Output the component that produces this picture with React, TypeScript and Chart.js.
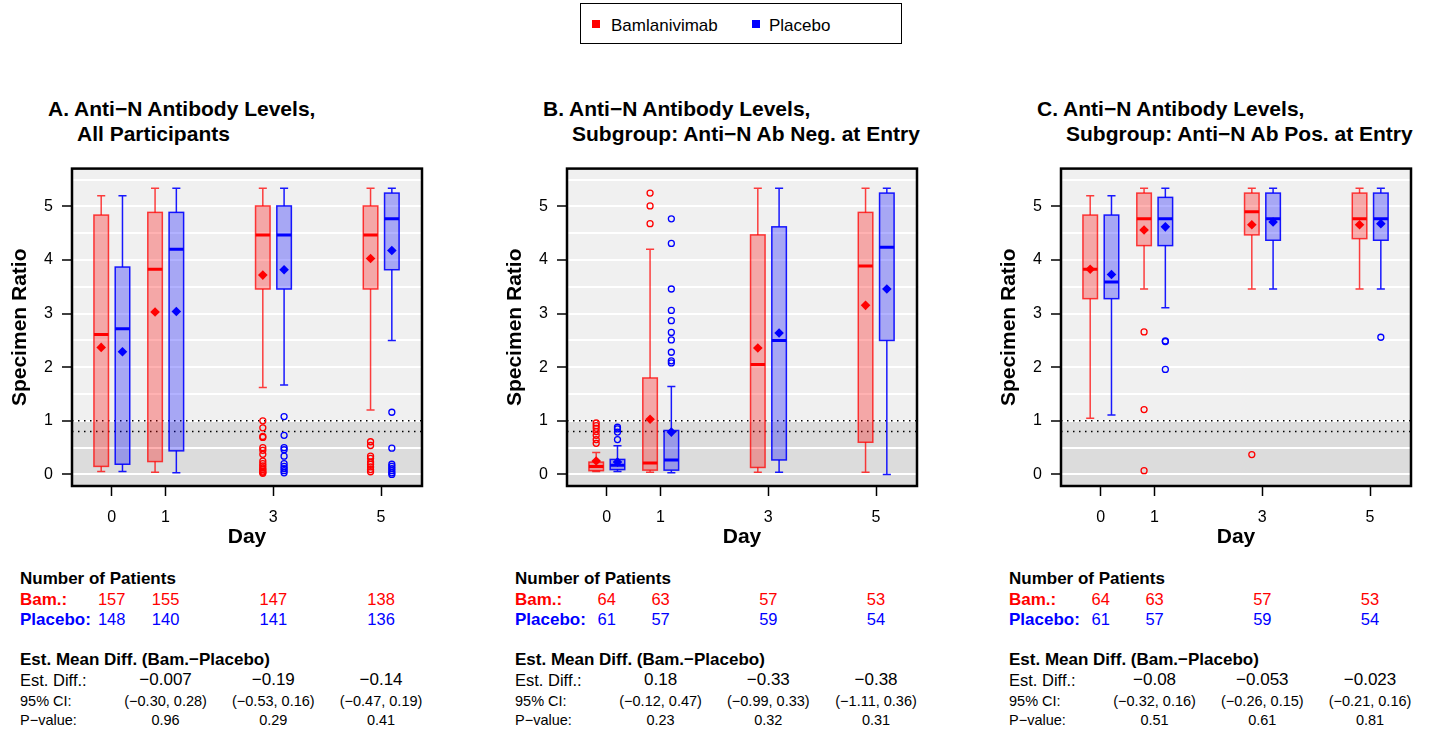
import React, { useEffect, useRef } from 'react';
import { Chart, registerables } from 'chart.js';

Chart.register(...registerables);

const FONT = '"Liberation Sans", Arial, Helvetica, sans-serif';
const RED = '#ff0000';
const BLUE = '#0000ff';

// ---------- data ----------
const days = [0, 1, 3, 5];
const diffDays = [1, 3, 5];
const yGridValues = [0, 0.5, 1, 1.5, 2, 2.5, 3, 3.5, 4, 4.5, 5, 5.5];
const refLines = [1.0, 0.8];
const grayBelow = 1.0;

// box stats per day: [lower whisker, Q1, median, Q3, upper whisker]
// Panel A
const aBamBox = [
  [0.055, 0.15, 2.61, 4.84, 5.2],
  [0.04, 0.24, 3.83, 4.89, 5.34],
  [1.62, 3.46, 4.47, 5.01, 5.34],
  [1.2, 3.46, 4.47, 5.01, 5.34],
];
const aBamMean = [2.37, 3.03, 3.72, 4.03];
const aBamOut = [
  [],
  [],
  [1.0, 0.87, 0.71, 0.69, 0.5, 0.45, 0.375, 0.25, 0.2, 0.16, 0.12, 0.09, 0.06, 0.04, 0.02],
  [0.61, 0.54, 0.34, 0.3, 0.23, 0.19, 0.14, 0.09, 0.05],
];
const aPboBox = [
  [0.055, 0.19, 2.72, 3.87, 5.2],
  [0.03, 0.44, 4.2, 4.89, 5.34],
  [1.67, 3.46, 4.47, 5.01, 5.34],
  [2.5, 3.82, 4.77, 5.25, 5.34],
];
const aPboMean = [2.29, 3.04, 3.82, 4.18];
const aPboOut = [
  [],
  [],
  [1.08, 0.73, 0.5, 0.46, 0.34, 0.2, 0.15, 0.11, 0.07, 0.03],
  [1.16, 0.49, 0.19, 0.15, 0.11, 0.07, 0.03, 0.0],
];

// Panel B
const bBamBox = [
  [0.055, 0.07, 0.15, 0.23, 0.41],
  [0.04, 0.08, 0.215, 1.8, 4.2],
  [0.04, 0.13, 2.05, 4.47, 5.34],
  [0.04, 0.6, 3.89, 4.89, 5.34],
];
const bBamMean = [0.25, 1.03, 2.36, 3.155];
const bBamOut = [[0.96, 0.91, 0.86, 0.8, 0.73, 0.65, 0.58], [5.25, 5.01, 4.68], [], []];
const bPboBox = [
  [0.055, 0.09, 0.17, 0.28, 0.535],
  [0.03, 0.08, 0.27, 0.82, 1.64],
  [0.04, 0.27, 2.5, 4.62, 5.34],
  [0.0, 2.5, 4.24, 5.25, 5.34],
];
const bPboMean = [0.23, 0.79, 2.64, 3.46];
const bPboOut = [[0.88, 0.85, 0.79, 0.65], [4.77, 4.31, 3.46, 3.06, 2.87, 2.65, 2.51, 2.28, 2.12, 2.08], [], []];

// Panel C
const cBamBox = [
  [1.05, 3.28, 3.83, 4.84, 5.2],
  [3.46, 4.27, 4.77, 5.25, 5.34],
  [3.46, 4.47, 4.9, 5.25, 5.34],
  [3.46, 4.4, 4.77, 5.25, 5.34],
];
const cBamMean = [3.83, 4.56, 4.66, 4.66];
const cBamOut = [[], [2.66, 1.21, 0.07], [0.37], []];
const cPboBox = [
  [1.11, 3.28, 3.59, 4.84, 5.2],
  [3.11, 4.27, 4.77, 5.17, 5.34],
  [3.46, 4.37, 4.77, 5.25, 5.34],
  [3.46, 4.37, 4.77, 5.25, 5.34],
];
const cPboMean = [3.73, 4.62, 4.71, 4.68];
const cPboOut = [[], [2.49, 2.48, 1.96], [], [2.56]];

// tables
const aBamN = [157, 155, 147, 138];
const aPboN = [148, 140, 141, 136];
const aDiff = ['\u22120.007', '\u22120.19', '\u22120.14'];
const aCI = ['(\u22120.30, 0.28)', '(\u22120.53, 0.16)', '(\u22120.47, 0.19)'];
const aP = ['0.96', '0.29', '0.41'];

const bBamN = [64, 63, 57, 53];
const bPboN = [61, 57, 59, 54];
const bDiff = ['0.18', '\u22120.33', '\u22120.38'];
const bCI = ['(\u22120.12, 0.47)', '(\u22120.99, 0.33)', '(\u22121.11, 0.36)'];
const bP = ['0.23', '0.32', '0.31'];

const cBamN = [64, 63, 57, 53];
const cPboN = [61, 57, 59, 54];
const cDiff = ['\u22120.08', '\u22120.053', '\u22120.023'];
const cCI = ['(\u22120.32, 0.16)', '(\u22120.26, 0.15)', '(\u22120.21, 0.16)'];
const cP = ['0.51', '0.61', '0.81'];

const aTitle = ['A. Anti\u2212N Antibody Levels,', 'All Participants'];
const bTitle = ['B. Anti\u2212N Antibody Levels,', 'Subgroup: Anti\u2212N Ab Neg. at Entry'];
const cTitle = ['C. Anti\u2212N Antibody Levels,', 'Subgroup: Anti\u2212N Ab Pos. at Entry'];

const tableHead1 = 'Number of Patients';
const tableHead2 = 'Est. Mean Diff. (Bam.\u2212Placebo)';
const rowBam = 'Bam.:';
const rowPbo = 'Placebo:';
const rowDiff = 'Est. Diff.:';
const rowCI = '95% CI:';
const rowP = 'P\u2212value:';

// ---------- layout ----------
const PANEL_DX = [0, 495, 989];
const X_MIN = -0.737;
const X_MAX = 5.76;
const Y_MIN = -0.216;
const Y_MAX = 5.707;
const BAM_OFF = -0.195;
const PBO_OFF = 0.2;
const BOX_HALF = 0.135;
const CAP_HALF = 0.075;
const CANVAS_TOP = 150;
const CANVAS_W = 440;
const CANVAS_H = 410;
const AREA_L = 72;
const AREA_T = 15;
const AREA_R = 422;
const AREA_B = 336;

const panels = [
  { title: aTitle, bamBox: aBamBox, bamMean: aBamMean, bamOut: aBamOut, pboBox: aPboBox, pboMean: aPboMean, pboOut: aPboOut, bamN: aBamN, pboN: aPboN, diff: aDiff, ci: aCI, p: aP, title2X: 77 },
  { title: bTitle, bamBox: bBamBox, bamMean: bBamMean, bamOut: bBamOut, pboBox: bPboBox, pboMean: bPboMean, pboOut: bPboOut, bamN: bBamN, pboN: bPboN, diff: bDiff, ci: bCI, p: bP, title2X: 77 },
  { title: cTitle, bamBox: cBamBox, bamMean: cBamMean, bamOut: cBamOut, pboBox: cPboBox, pboMean: cPboMean, pboOut: cPboOut, bamN: cBamN, pboN: cPboN, diff: cDiff, ci: cCI, p: cP, title2X: 77 },
];

function colX(d: number) {
  return AREA_L + ((d - X_MIN) / (X_MAX - X_MIN)) * (AREA_R - AREA_L);
}

function Txt(props: any) {
  const { x, base, size, bold, color = '#000', align = 'left', children } = props;
  const tx = align === 'center' ? 'translateX(-50%)' : align === 'right' ? 'translateX(-100%)' : 'none';
  return (
    <div
      style={{
        position: 'absolute',
        left: x,
        top: base - 0.8465 * size,
        fontSize: size,
        lineHeight: `${size}px`,
        fontWeight: bold ? 'bold' : 'normal',
        color,
        whiteSpace: 'nowrap',
        transform: tx,
        fontFamily: FONT,
      }}
    >
      {children}
    </div>
  );
}

function PanelChart({ panel, dx }: any) {
  const ref = useRef<HTMLCanvasElement>(null);
  useEffect(() => {
    const groups = [
      { box: panel.bamBox, mean: panel.bamMean, out: panel.bamOut, off: BAM_OFF, stroke: 'rgba(255,0,0,0.75)', solid: RED, fill: 'rgba(255,0,0,0.3)' },
      { box: panel.pboBox, mean: panel.pboMean, out: panel.pboOut, off: PBO_OFF, stroke: 'rgba(0,0,255,0.9)', solid: BLUE, fill: 'rgba(0,0,255,0.3)' },
    ];
    const datasets: any[] = [];
    groups.forEach((g) => {
      datasets.push({
        type: 'scatter',
        data: g.out.flatMap((vals: number[], i: number) => vals.map((v) => ({ x: days[i] + g.off, y: v }))),
        pointStyle: 'circle',
        pointRadius: 3,
        borderWidth: 1.3,
        borderColor: g.solid,
        backgroundColor: 'rgba(0,0,0,0)',
      });
      datasets.push({
        type: 'scatter',
        data: g.mean.map((v: number, i: number) => ({ x: days[i] + g.off, y: v })),
        pointStyle: 'rectRot',
        pointRadius: 4.8,
        borderWidth: 0,
        borderColor: g.solid,
        backgroundColor: g.solid,
      });
    });

    const bgPlugin = {
      id: 'bgBands',
      beforeDraw(chart: any) {
        const { ctx, chartArea: a, scales } = chart;
        const y = scales.y;
        ctx.save();
        ctx.fillStyle = '#f0f0f0';
        ctx.fillRect(a.left, a.top, a.right - a.left, a.bottom - a.top);
        const py = y.getPixelForValue(grayBelow);
        ctx.fillStyle = '#dcdcdc';
        ctx.fillRect(a.left, py, a.right - a.left, a.bottom - py);
        ctx.restore();
      },
    };

    const boxPlugin = {
      id: 'boxes',
      beforeDatasetsDraw(chart: any) {
        const { ctx, chartArea: a, scales } = chart;
        const x = scales.x;
        const y = scales.y;
        ctx.save();
        ctx.beginPath();
        ctx.rect(a.left, a.top, a.right - a.left, a.bottom - a.top);
        ctx.clip();
        ctx.strokeStyle = '#000';
        ctx.lineWidth = 1.5;
        ctx.setLineDash([1.5, 4.5]);
        refLines.forEach((v) => {
          const py = y.getPixelForValue(v);
          ctx.beginPath();
          ctx.moveTo(a.left, py);
          ctx.lineTo(a.right, py);
          ctx.stroke();
        });
        ctx.setLineDash([]);
        groups.forEach((g) => {
          g.box.forEach((b: number[], i: number) => {
            const c = days[i] + g.off;
            const cx = x.getPixelForValue(c);
            const xl = x.getPixelForValue(c - BOX_HALF);
            const xr = x.getPixelForValue(c + BOX_HALF);
            const cl = x.getPixelForValue(c - CAP_HALF);
            const cr = x.getPixelForValue(c + CAP_HALF);
            const [lo, q1, med, q3, hi] = b.map((v) => y.getPixelForValue(v));
            ctx.fillStyle = g.fill;
            ctx.fillRect(xl, q3, xr - xl, q1 - q3);
            ctx.strokeStyle = g.stroke;
            ctx.lineWidth = 1.5;
            ctx.strokeRect(xl, q3, xr - xl, q1 - q3);
            ctx.beginPath();
            ctx.moveTo(cx, q3);
            ctx.lineTo(cx, hi);
            ctx.moveTo(cl, hi);
            ctx.lineTo(cr, hi);
            ctx.moveTo(cx, q1);
            ctx.lineTo(cx, lo);
            ctx.moveTo(cl, lo);
            ctx.lineTo(cr, lo);
            ctx.stroke();
            ctx.strokeStyle = g.solid;
            ctx.lineWidth = 3;
            ctx.beginPath();
            ctx.moveTo(xl, med);
            ctx.lineTo(xr, med);
            ctx.stroke();
          });
        });
        ctx.restore();
      },
    };

    const framePlugin = {
      id: 'frame',
      afterDraw(chart: any) {
        const { ctx, chartArea: a } = chart;
        ctx.save();
        ctx.strokeStyle = '#000';
        ctx.lineWidth = 2.5;
        ctx.strokeRect(a.left, a.top, a.right - a.left, a.bottom - a.top);
        ctx.restore();
      },
    };

    const chart = new Chart(ref.current as HTMLCanvasElement, {
      type: 'scatter',
      data: { datasets },
      options: {
        responsive: false,
        maintainAspectRatio: false,
        animation: false,
        events: [],
        layout: { padding: { top: AREA_T, right: CANVAS_W - AREA_R, left: 0, bottom: 0 } },
        plugins: { legend: { display: false }, tooltip: { enabled: false }, title: { display: false } },
        scales: {
          x: {
            type: 'linear',
            position: 'bottom',
            min: X_MIN,
            max: X_MAX,
            bounds: 'data',
            afterBuildTicks: (axis: any) => {
              axis.ticks = days.map((v) => ({ value: v }));
            },
            afterFit: (axis: any) => {
              axis.height = CANVAS_H - AREA_B;
            },
            grid: { drawOnChartArea: false, drawTicks: true, tickLength: 10, tickColor: '#000', tickWidth: 1.5 },
            border: { display: false },
            ticks: {
              autoSkip: false,
              maxRotation: 0,
              padding: 12,
              color: '#000',
              font: { family: FONT, size: 16 },
              callback: (v: any) => String(v),
            },
            title: {
              display: true,
              text: 'Day',
              color: '#000',
              font: { family: FONT, size: 21, weight: 'bold' },
              padding: { top: 0, bottom: 10 },
            },
          },
          y: {
            type: 'linear',
            min: Y_MIN,
            max: Y_MAX,
            bounds: 'data',
            afterBuildTicks: (axis: any) => {
              axis.ticks = yGridValues.map((v) => ({ value: v }));
            },
            afterFit: (axis: any) => {
              axis.width = AREA_L;
            },
            grid: {
              color: '#ffffff',
              lineWidth: 2,
              drawTicks: true,
              tickLength: 10,
              tickWidth: 1.5,
              tickColor: (c: any) => (c.tick && Number.isInteger(c.tick.value) ? '#000' : 'rgba(0,0,0,0)'),
            },
            border: { display: false },
            ticks: {
              autoSkip: false,
              padding: 9,
              color: '#000',
              font: { family: FONT, size: 16 },
              callback: (v: any) => (Number.isInteger(v) ? String(v) : ''),
            },
            title: {
              display: true,
              text: 'Specimen Ratio',
              color: '#000',
              font: { family: FONT, size: 21, weight: 'bold' },
              padding: { top: 8, bottom: 0 },
            },
          },
        },
      } as any,
      plugins: [bgPlugin, boxPlugin, framePlugin],
    });
    return () => chart.destroy();
  }, []);
  return (
    <canvas
      ref={ref}
      width={CANVAS_W}
      height={CANVAS_H}
      style={{ position: 'absolute', left: dx, top: CANVAS_TOP, width: CANVAS_W, height: CANVAS_H }}
    />
  );
}

function Panel({ panel, dx }: any) {
  return (
    <>
      <Txt x={dx + 48} base={115.7} size={21} bold>{panel.title[0]}</Txt>
      <Txt x={dx + panel.title2X} base={140.3} size={21} bold>{panel.title[1]}</Txt>
      <PanelChart panel={panel} dx={dx} />
      <Txt x={dx + 20} base={584.5} size={17} bold>{tableHead1}</Txt>
      <Txt x={dx + 20} base={605} size={17} bold color={RED}>{rowBam}</Txt>
      <Txt x={dx + 20} base={625} size={17} bold color={BLUE}>{rowPbo}</Txt>
      {days.map((d, i) => (
        <Txt key={'bn' + i} x={dx + colX(d)} base={605} size={16.5} color={RED} align="center">{panel.bamN[i]}</Txt>
      ))}
      {days.map((d, i) => (
        <Txt key={'pn' + i} x={dx + colX(d)} base={625} size={16.5} color={BLUE} align="center">{panel.pboN[i]}</Txt>
      ))}
      <Txt x={dx + 20} base={665} size={17} bold>{tableHead2}</Txt>
      <Txt x={dx + 20} base={685.7} size={16.5}>{rowDiff}</Txt>
      <Txt x={dx + 20} base={706.7} size={14.5}>{rowCI}</Txt>
      <Txt x={dx + 20} base={725.7} size={14.5}>{rowP}</Txt>
      {diffDays.map((d, i) => (
        <Txt key={'d' + i} x={dx + colX(d)} base={685.7} size={17} align="center">{panel.diff[i]}</Txt>
      ))}
      {diffDays.map((d, i) => (
        <Txt key={'c' + i} x={dx + colX(d)} base={706.7} size={14.5} align="center">{panel.ci[i]}</Txt>
      ))}
      {diffDays.map((d, i) => (
        <Txt key={'p' + i} x={dx + colX(d)} base={725.7} size={14.5} align="center">{panel.p[i]}</Txt>
      ))}
    </>
  );
}

function Legend() {
  return (
    <div
      style={{
        position: 'absolute',
        left: 580,
        top: 3,
        width: 322,
        height: 41,
        border: '1.5px solid #000',
        boxSizing: 'border-box',
        background: '#fff',
      }}
    >
      <div style={{ position: 'absolute', left: 11, top: 15.5, width: 8, height: 8, background: RED }} />
      <div style={{ position: 'absolute', left: 30, top: 27.5 - 0.8465 * 17, fontSize: 17, lineHeight: '17px', fontFamily: FONT, whiteSpace: 'nowrap' }}>Bamlanivimab</div>
      <div style={{ position: 'absolute', left: 170.5, top: 15.5, width: 8, height: 8, background: BLUE }} />
      <div style={{ position: 'absolute', left: 188, top: 27.5 - 0.8465 * 17, fontSize: 17, lineHeight: '17px', fontFamily: FONT, whiteSpace: 'nowrap' }}>Placebo</div>
    </div>
  );
}

export default function App() {
  return (
    <div
      style={{
        position: 'absolute',
        left: 0,
        top: 0,
        width: 1431,
        height: 734,
        background: '#fff',
        overflow: 'hidden',
        fontFamily: FONT,
      }}
    >
      <Legend />
      {panels.map((p, i) => (
        <Panel key={i} panel={p} dx={PANEL_DX[i]} />
      ))}
    </div>
  );
}
